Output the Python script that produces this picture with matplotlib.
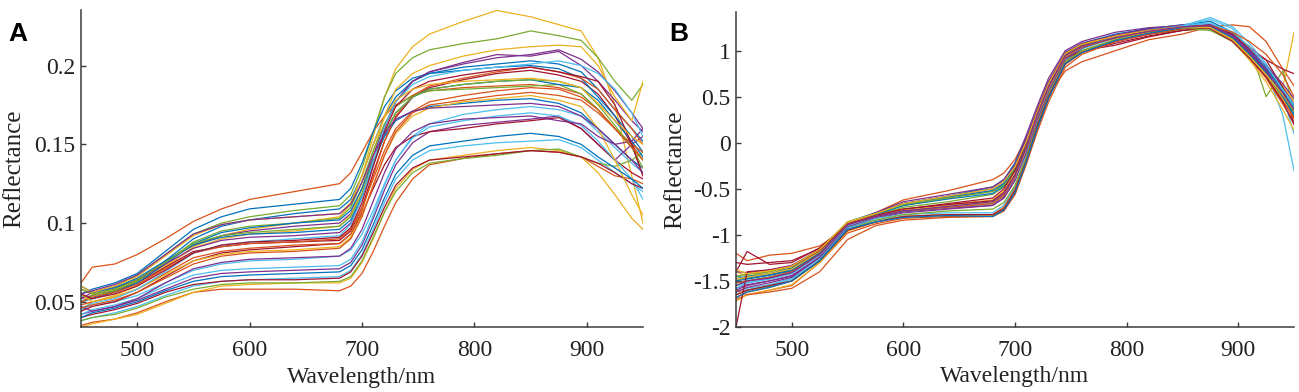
import matplotlib
matplotlib.use("Agg")
import matplotlib.pyplot as plt
import numpy as np

wl = [450, 460, 480, 500, 525, 550, 575, 600, 640, 680, 690, 700, 710,
      720, 730, 745, 760, 790, 820, 850, 875, 895, 910, 925, 940, 950]

# panel A: raw reflectance, in thousandths
refl_a = [
    [50, 52, 57, 63, 76, 90, 98, 102, 106, 109, 115, 130, 150, 168, 180, 190, 195, 199, 201, 203, 201, 196, 185, 172, 160, 152],
    [62, 72, 74, 80, 90, 101, 109, 115, 120, 125, 132, 145, 158, 168, 175, 181, 184, 186, 187, 188, 186, 182, 172, 160, 150, 140],
    [45, 50, 54, 60, 72, 85, 92, 96, 100, 104, 112, 130, 155, 180, 198, 212, 220, 228, 235, 231, 226, 222, 205, 175, 130, 100],
    [58, 55, 58, 64, 75, 86, 92, 95, 98, 100, 106, 122, 143, 162, 177, 190, 196, 202, 207, 206, 209, 200, 190, 178, 165, 158],
    [60, 56, 60, 67, 80, 93, 100, 104, 108, 111, 118, 135, 158, 180, 195, 205, 210, 214, 217, 222, 219, 216, 205, 190, 178, 188],
    [45, 48, 50, 54, 62, 70, 74, 76, 77, 79, 83, 93, 108, 125, 140, 155, 163, 169, 172, 174, 172, 168, 158, 148, 138, 132],
    [52, 54, 57, 62, 72, 82, 85, 87, 88, 89, 95, 110, 132, 152, 167, 180, 186, 191, 195, 197, 194, 190, 182, 168, 150, 130],
    [55, 58, 62, 68, 82, 96, 104, 109, 112, 115, 122, 138, 158, 174, 184, 192, 195, 197, 199, 200, 198, 192, 180, 168, 155, 145],
    [35, 37, 39, 43, 50, 56, 58, 58, 58, 57, 60, 68, 82, 98, 113, 128, 137, 141, 144, 146, 145, 142, 136, 130, 128, 125],
    [58, 55, 58, 63, 73, 84, 90, 93, 95, 98, 105, 122, 145, 168, 185, 195, 200, 206, 210, 212, 213, 212, 200, 180, 165, 190],
    [42, 44, 47, 51, 58, 65, 68, 69, 70, 71, 75, 86, 103, 121, 137, 151, 158, 162, 164, 166, 168, 160, 150, 140, 150, 155],
    [50, 54, 57, 63, 75, 88, 95, 98, 100, 103, 110, 126, 146, 163, 174, 181, 184, 185, 186, 187, 188, 182, 172, 160, 148, 140],
    [38, 40, 43, 47, 54, 60, 63, 64, 65, 66, 70, 80, 96, 113, 128, 140, 146, 149, 151, 152, 153, 148, 140, 132, 125, 120],
    [44, 47, 50, 56, 66, 76, 81, 83, 85, 87, 93, 106, 122, 137, 148, 155, 158, 160, 163, 165, 167, 160, 150, 140, 132, 128],
    [54, 52, 56, 62, 74, 87, 94, 97, 100, 102, 108, 122, 140, 155, 165, 171, 174, 176, 178, 179, 176, 170, 160, 150, 140, 135],
    [48, 50, 53, 58, 68, 78, 82, 84, 86, 87, 93, 108, 130, 152, 168, 181, 187, 192, 196, 199, 196, 192, 185, 172, 160, 150],
    [34, 36, 39, 42, 49, 56, 60, 61, 62, 62, 65, 75, 90, 107, 122, 134, 140, 143, 146, 148, 146, 142, 132, 118, 103, 96],
    [52, 56, 59, 64, 74, 84, 89, 91, 92, 94, 100, 116, 138, 160, 177, 190, 196, 201, 205, 207, 210, 204, 196, 184, 170, 160],
    [38, 40, 42, 46, 53, 58, 61, 62, 62, 63, 66, 76, 91, 107, 120, 132, 138, 141, 143, 146, 147, 142, 138, 136, 140, 145],
    [42, 45, 48, 52, 60, 67, 70, 71, 72, 73, 77, 88, 105, 124, 140, 154, 161, 165, 168, 170, 168, 162, 152, 140, 128, 115],
    [40, 42, 45, 49, 56, 61, 63, 64, 64, 65, 69, 79, 94, 110, 124, 135, 140, 142, 144, 146, 145, 142, 138, 132, 125, 122],
    [60, 56, 59, 65, 76, 86, 91, 93, 94, 96, 102, 117, 137, 156, 170, 180, 185, 188, 190, 191, 188, 186, 178, 165, 152, 142],
    [50, 53, 56, 61, 71, 81, 85, 87, 88, 90, 96, 110, 128, 146, 160, 171, 177, 181, 184, 186, 185, 180, 172, 160, 150, 145],
    [55, 50, 53, 58, 67, 76, 80, 82, 83, 85, 91, 105, 124, 143, 157, 168, 173, 177, 179, 181, 178, 174, 160, 140, 118, 105],
    [47, 44, 47, 52, 62, 71, 75, 77, 78, 79, 84, 96, 114, 132, 147, 158, 163, 166, 167, 168, 165, 163, 155, 150, 152, 160],
    [58, 55, 58, 64, 75, 87, 92, 94, 96, 98, 104, 119, 139, 157, 170, 180, 185, 188, 190, 191, 190, 186, 175, 162, 148, 135],
    [46, 49, 52, 58, 69, 81, 86, 88, 90, 92, 99, 116, 139, 161, 177, 188, 193, 197, 199, 201, 203, 200, 195, 185, 170, 155],
    [55, 52, 55, 60, 70, 81, 86, 88, 89, 91, 97, 113, 136, 158, 174, 185, 190, 194, 197, 199, 196, 193, 190, 175, 150, 130],
    [40, 43, 46, 50, 57, 63, 66, 67, 68, 69, 73, 83, 99, 116, 131, 143, 149, 152, 155, 157, 155, 150, 142, 135, 128, 122],
    [46, 48, 51, 56, 65, 74, 79, 81, 82, 84, 90, 104, 124, 143, 158, 170, 175, 178, 181, 183, 181, 178, 170, 160, 148, 140],
    [60, 56, 60, 66, 79, 92, 99, 102, 104, 106, 113, 130, 150, 167, 178, 185, 188, 190, 191, 192, 190, 186, 176, 165, 155, 150],
    [55, 57, 61, 67, 80, 93, 99, 102, 104, 106, 112, 126, 143, 157, 166, 171, 173, 174, 175, 176, 174, 168, 160, 150, 140, 132],
]

# panel B: standardised reflectance, in hundredths
refl_b = [
    [-152, -150, -146, -141, -120, -88, -78, -68, -60, -52, -44, -26, 2, 34, 64, 96, 106, 115, 121, 125, 124, 112, 96, 76, 52, 34],
    [-120, -128, -122, -120, -112, -92, -76, -62, -52, -40, -33, -18, 5, 28, 52, 78, 88, 100, 112, 118, 126, 128, 126, 110, 80, 62],
    [-140, -145, -140, -136, -118, -86, -78, -72, -68, -63, -54, -34, -4, 32, 62, 96, 106, 116, 123, 127, 126, 112, 98, 80, 60, 120],
    [-160, -155, -150, -145, -125, -90, -78, -66, -58, -50, -42, -22, 8, 40, 70, 100, 110, 120, 125, 127, 124, 110, 92, 72, 48, 28],
    [-155, -150, -146, -140, -120, -88, -80, -74, -70, -66, -56, -36, -6, 30, 60, 94, 104, 114, 118, 122, 124, 115, 105, 50, 78, 40],
    [-165, -160, -155, -148, -128, -92, -84, -80, -78, -78, -72, -50, -16, 22, 55, 92, 104, 116, 123, 128, 130, 118, 100, 78, 30, -30],
    [-130, -132, -130, -128, -115, -88, -80, -74, -70, -66, -58, -40, -10, 25, 56, 90, 100, 108, 116, 122, 125, 114, 100, 90, 80, 75],
    [-148, -145, -142, -136, -116, -86, -76, -66, -58, -48, -40, -22, 4, 36, 66, 98, 108, 118, 124, 128, 132, 120, 104, 82, 56, 38],
    [-170, -165, -160, -155, -130, -98, -88, -82, -80, -80, -74, -56, -22, 15, 48, 85, 98, 110, 118, 124, 124, 112, 92, 70, 42, 22],
    [-145, -142, -140, -134, -116, -86, -78, -72, -67, -62, -52, -32, -2, 33, 63, 96, 106, 116, 122, 126, 128, 116, 100, 84, 62, 45],
    [-158, -154, -150, -144, -124, -92, -82, -76, -72, -68, -60, -40, -8, 28, 58, 92, 103, 114, 121, 126, 128, 116, 98, 78, 54, 30],
    [-150, -146, -143, -138, -118, -88, -79, -70, -64, -56, -48, -30, -2, 33, 63, 96, 106, 115, 120, 124, 122, 110, 94, 76, 54, 36],
    [-162, -158, -154, -147, -126, -92, -82, -78, -76, -76, -68, -48, -14, 22, 54, 90, 102, 114, 121, 127, 134, 124, 102, 80, 50, 10],
    [-140, -118, -132, -130, -114, -88, -79, -72, -67, -63, -54, -35, -5, 30, 60, 92, 100, 106, 115, 122, 126, 118, 104, 90, 60, 20],
    [-145, -147, -143, -138, -119, -87, -77, -66, -59, -52, -45, -28, 0, 34, 64, 97, 107, 116, 122, 126, 128, 118, 100, 80, 58, 40],
    [-168, -162, -157, -150, -128, -95, -86, -80, -78, -78, -70, -50, -18, 20, 52, 88, 100, 112, 120, 126, 126, 114, 95, 74, 46, 26],
    [-172, -165, -160, -154, -130, -96, -86, -80, -78, -79, -72, -52, -20, 18, 50, 87, 99, 112, 120, 126, 125, 110, 90, 66, 36, 14],
    [-140, -141, -138, -133, -116, -87, -76, -64, -56, -48, -40, -24, 4, 36, 66, 98, 108, 117, 124, 128, 126, 114, 98, 80, 50, 30],
    [-165, -160, -156, -150, -128, -94, -84, -78, -74, -72, -65, -46, -16, 20, 52, 88, 100, 112, 119, 124, 126, 114, 96, 76, 52, 34],
    [-155, -152, -148, -142, -122, -90, -81, -75, -70, -66, -57, -37, -7, 29, 59, 93, 104, 115, 122, 127, 136, 126, 108, 86, 58, 40],
    [-165, -160, -155, -150, -128, -95, -86, -80, -78, -78, -72, -52, -20, 18, 50, 86, 98, 110, 118, 124, 128, 118, 102, 84, 60, 42],
    [-150, -148, -144, -139, -120, -88, -78, -68, -61, -55, -47, -30, -2, 32, 62, 95, 105, 115, 121, 125, 126, 114, 96, 76, 50, 32],
    [-160, -165, -162, -158, -140, -105, -90, -84, -81, -80, -74, -56, -24, 12, 44, 82, 96, 110, 118, 124, 125, 112, 94, 72, 46, 28],
    [-148, -146, -142, -137, -118, -87, -79, -73, -69, -65, -56, -36, -6, 30, 60, 94, 104, 114, 120, 125, 126, 114, 96, 74, 48, 30],
    [-162, -157, -152, -146, -124, -91, -81, -75, -71, -68, -60, -41, -11, 25, 56, 91, 103, 115, 122, 127, 128, 116, 100, 84, 64, 48],
    [-145, -143, -140, -134, -116, -86, -77, -67, -60, -53, -46, -29, -1, 33, 63, 96, 106, 115, 121, 125, 124, 112, 94, 74, 50, 34],
    [-158, -152, -148, -142, -122, -90, -80, -74, -70, -66, -57, -38, -8, 28, 58, 93, 104, 115, 122, 127, 130, 120, 104, 84, 58, 42],
    [-200, -140, -138, -134, -117, -88, -79, -72, -66, -60, -50, -30, 0, 35, 65, 97, 107, 116, 122, 126, 124, 110, 92, 72, 44, 20],
    [-168, -162, -157, -150, -128, -94, -86, -81, -79, -80, -73, -54, -21, 16, 48, 86, 98, 111, 119, 125, 126, 114, 96, 76, 50, 30],
    [-152, -150, -146, -140, -121, -89, -80, -74, -70, -66, -57, -37, -7, 29, 59, 93, 104, 114, 121, 126, 127, 120, 110, 96, 74, 50],
    [-138, -142, -139, -134, -116, -86, -77, -66, -58, -50, -42, -26, 1, 34, 64, 97, 107, 116, 122, 126, 125, 112, 94, 74, 52, 36],
    [-155, -150, -147, -141, -121, -89, -80, -74, -69, -64, -55, -35, -5, 31, 61, 95, 105, 114, 121, 126, 127, 116, 98, 78, 54, 36],
]

xticks = [500, 600, 700, 800, 900]
yticks_a = [0.05, 0.1, 0.15, 0.2]
yticks_b = [-2, -1.5, -1, -0.5, 0, 0.5, 1]

# matlab default line colours
colors = ['#0072BD', '#D95319', '#EDB120', '#7E2F8E', '#77AC30', '#4DBEEE', '#A2142F']

plt.rcParams['font.family'] = ['Liberation Serif', 'DejaVu Serif']

fig = plt.figure(figsize=(12.99, 3.92), dpi=100)
ax_a = fig.add_axes([81 / 1299, 65 / 392, 562 / 1299, 317 / 392])
ax_b = fig.add_axes([736 / 1299, 65 / 392, 558 / 1299, 315 / 392])


def style_axis(ax, yticks, ylim, ylab_x):
    ax.set_xlim(450, 950)
    ax.set_ylim(*ylim)
    ax.set_xticks(xticks)
    ax.set_yticks(yticks)
    ax.set_yticklabels(['%g' % t for t in yticks])
    for side in ['top', 'right']:
        ax.spines[side].set_visible(False)
    for side in ['left', 'bottom']:
        ax.spines[side].set_color('#3a3a3a')
        ax.spines[side].set_linewidth(1.1)
    ax.tick_params(direction='in', length=3.5, width=1, color='#3a3a3a',
                   labelsize=17, labelcolor='#222222')
    ax.tick_params(axis='x', pad=9)
    ax.tick_params(axis='y', pad=4)
    ax.set_xlabel('Wavelength/nm', fontsize=17, color='#222222')
    ax.set_ylabel('Reflectance', fontsize=18, color='#222222')
    ax.xaxis.set_label_coords(0.5, -0.125)
    ax.yaxis.set_label_coords(ylab_x, 0.5)


for i, curve in enumerate(refl_a):
    ax_a.plot(wl, np.array(curve) / 1000, color=colors[i % 7], lw=0.9)
for i, curve in enumerate(refl_b):
    ax_b.plot(wl, np.array(curve) / 100, color=colors[i % 7], lw=0.9)

style_axis(ax_a, yticks_a, (0.034, 0.2353), -0.10)
style_axis(ax_b, yticks_b, (-2, 1.42), -0.09)

fig.text(8 / 1299, 1 - 41 / 392, 'A', fontsize=19, fontweight='bold',
         family='Liberation Sans')
fig.text(669 / 1299, 1 - 41 / 392, 'B', fontsize=19, fontweight='bold',
         family='Liberation Sans')

fig.savefig('out.png', dpi=100)
